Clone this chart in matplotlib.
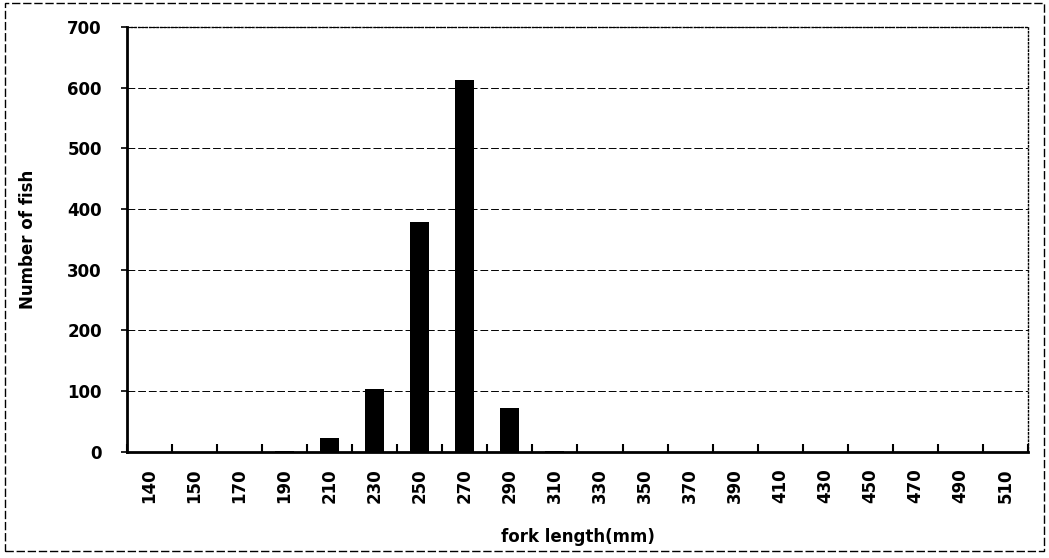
import matplotlib.pyplot as plt
import numpy as np
from matplotlib.patches import Rectangle

# fork length classes (mm) and counts
lengths = ['140', '150', '170', '190', '210', '230', '250', '270', '290', '310',
           '330', '350', '370', '390', '410', '430', '450', '470', '490', '510']
counts = [0, 0, 0, 1, 23, 104, 379, 613, 73, 2,
          0, 0, 0, 0, 0, 0, 0, 0, 0, 0]
yticks = [0, 100, 200, 300, 400, 500, 600, 700]

fig = plt.figure(figsize=(10.49, 5.58), dpi=100)
ax = fig.add_axes([0.121, 0.190, 0.859, 0.762])

x = np.arange(len(lengths))
ax.bar(x, counts, width=0.42, color='black', zorder=3)

ax.set_xlim(-0.5, len(lengths) - 0.5)
ax.set_ylim(0, 700)
ax.set_yticks(yticks)
ax.set_yticklabels([str(v) for v in yticks], fontsize=12, fontweight='bold')
ax.set_xticks(x)
ax.set_xticklabels(lengths, rotation=90, fontsize=12, fontweight='bold')
ax.tick_params(axis='x', length=0, pad=12)
ax.tick_params(axis='y', length=4, width=1.2, pad=14)
# tick marks between the categories
ax.set_xticks(np.arange(len(lengths) + 1) - 0.5, minor=True)
ax.tick_params(axis='x', which='minor', direction='in', length=6, width=1.5)

ax.yaxis.grid(True, color='black', linestyle=(0, (8, 3)), linewidth=0.7, zorder=0)
for s in ['left', 'bottom']:
    ax.spines[s].set_linewidth(2)
for s in ['top', 'right']:
    ax.spines[s].set_linestyle(':')
    ax.spines[s].set_linewidth(1)

ax.set_ylabel('Number of fish', fontsize=12, fontweight='bold', labelpad=22)
ax.set_xlabel('fork length(mm)', fontsize=12, fontweight='bold', labelpad=18)

# chart area border
fig.patches.append(Rectangle((0.005, 0.012), 0.99, 0.982, transform=fig.transFigure,
                             fill=False, edgecolor='black', linewidth=1.0,
                             linestyle=(0, (6, 2))))

plt.savefig('out.png', dpi=100)
